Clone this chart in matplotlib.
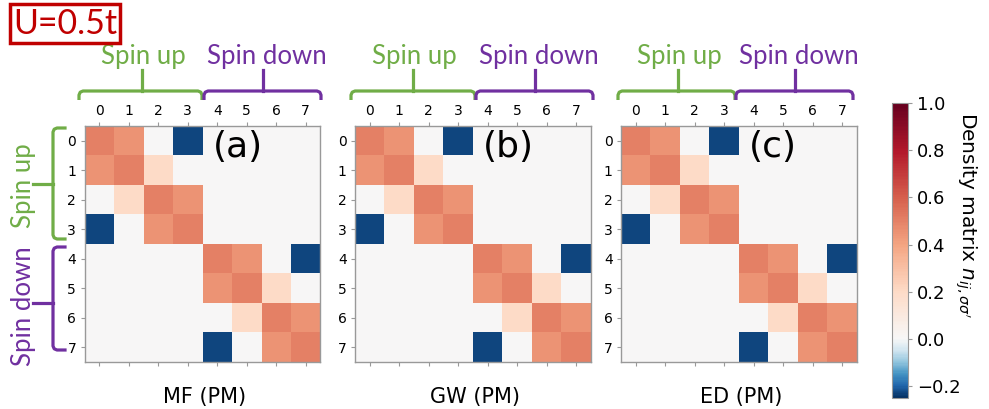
import numpy as np
import matplotlib
matplotlib.use("Agg")
import matplotlib.pyplot as plt
from matplotlib.colors import ListedColormap, Normalize

# density matrices n_ij,ss' (8 spin-orbitals: 0-3 spin up, 4-7 spin down)
mf_matrix = [
    [0.50, 0.45, 0.00, -0.23, 0.00, 0.00, 0.00, 0.00],
    [0.45, 0.50, 0.20, 0.00, 0.00, 0.00, 0.00, 0.00],
    [0.00, 0.20, 0.50, 0.45, 0.00, 0.00, 0.00, 0.00],
    [-0.23, 0.00, 0.45, 0.50, 0.00, 0.00, 0.00, 0.00],
    [0.00, 0.00, 0.00, 0.00, 0.50, 0.45, 0.00, -0.23],
    [0.00, 0.00, 0.00, 0.00, 0.45, 0.50, 0.20, 0.00],
    [0.00, 0.00, 0.00, 0.00, 0.00, 0.20, 0.50, 0.45],
    [0.00, 0.00, 0.00, 0.00, -0.23, 0.00, 0.45, 0.50],
]
gw_matrix = [
    [0.50, 0.45, 0.00, -0.23, 0.00, 0.00, 0.00, 0.00],
    [0.45, 0.50, 0.20, 0.00, 0.00, 0.00, 0.00, 0.00],
    [0.00, 0.20, 0.50, 0.45, 0.00, 0.00, 0.00, 0.00],
    [-0.23, 0.00, 0.45, 0.50, 0.00, 0.00, 0.00, 0.00],
    [0.00, 0.00, 0.00, 0.00, 0.50, 0.45, 0.00, -0.23],
    [0.00, 0.00, 0.00, 0.00, 0.45, 0.50, 0.20, 0.00],
    [0.00, 0.00, 0.00, 0.00, 0.00, 0.20, 0.50, 0.45],
    [0.00, 0.00, 0.00, 0.00, -0.23, 0.00, 0.45, 0.50],
]
ed_matrix = [
    [0.50, 0.45, 0.00, -0.23, 0.00, 0.00, 0.00, 0.00],
    [0.45, 0.50, 0.20, 0.00, 0.00, 0.00, 0.00, 0.00],
    [0.00, 0.20, 0.50, 0.45, 0.00, 0.00, 0.00, 0.00],
    [-0.23, 0.00, 0.45, 0.50, 0.00, 0.00, 0.00, 0.00],
    [0.00, 0.00, 0.00, 0.00, 0.50, 0.45, 0.00, -0.23],
    [0.00, 0.00, 0.00, 0.00, 0.45, 0.50, 0.20, 0.00],
    [0.00, 0.00, 0.00, 0.00, 0.00, 0.20, 0.50, 0.45],
    [0.00, 0.00, 0.00, 0.00, -0.23, 0.00, 0.45, 0.50],
]
panel_titles = ["MF (PM)", "GW (PM)", "ED (PM)"]
panel_tags = ["(a)", "(b)", "(c)"]
orbital_labels = ["0", "1", "2", "3", "4", "5", "6", "7"]
cbar_ticks = [-0.2, 0.0, 0.2, 0.4, 0.6, 0.8, 1.0]
vmin, vmax = -0.25, 1.0

W, H = 989, 409
GREEN = "#70AD47"
PURPLE = "#7030A0"
RED = "#C00000"

# RdBu_r with white pinned at zero
n_neg = int(round(256 * (-vmin) / (vmax - vmin)))
samples = np.concatenate([np.linspace(0, 0.5, n_neg, endpoint=False),
                          np.linspace(0.5, 1.0, 256 - n_neg)])
cmap = ListedColormap(plt.get_cmap("RdBu_r")(samples))
norm = Normalize(vmin=vmin, vmax=vmax)

fig = plt.figure(figsize=(W / 100, H / 100), dpi=100)

def px_box(left, top, width, height):
    return [left / W, (H - top - height) / H, width / W, height / H]

# overlay for brackets and labels in pixel coords
ov = fig.add_axes([0, 0, 1, 1])
ov.set_xlim(0, W)
ov.set_ylim(H, 0)
ov.axis("off")
ov.patch.set_alpha(0)

lefts = [84.5, 355, 621]
top, size = 126, 236
matrices = [mf_matrix, gw_matrix, ed_matrix]

im = None
for i, (mat, left) in enumerate(zip(matrices, lefts)):
    ax = fig.add_axes(px_box(left, top, size, size))
    im = ax.imshow(np.array(mat), cmap=cmap, norm=norm, aspect="auto",
                   interpolation="nearest")
    ax.set_xticks(range(8))
    ax.set_yticks(range(8))
    ax.set_xticklabels(orbital_labels)
    ax.set_yticklabels(orbital_labels)
    ax.tick_params(top=True, bottom=True, labeltop=True, labelbottom=False,
                   left=True, right=False, labelsize=10, color="#999999",
                   length=3, pad=3)
    for sp in ax.spines.values():
        sp.set_color("#999999")
        sp.set_linewidth(1)
    ax.text(3.85, 0.2, panel_tags[i], fontsize=26, ha="left", va="center")
    ov.text(left + size / 2 + 2, 397, panel_titles[i], fontsize=15,
            ha="center", va="center")

def hbracket(x0, x1, xs, color):
    yl, yb, yt, r = 91, 100, 70, 4
    xs_ = [x0, x0, x0 + 1.2, x0 + r, x1 - r, x1 - 1.2, x1, x1]
    ys_ = [yb, yl + r, yl + 1.2, yl, yl, yl + 1.2, yl + r, yb]
    ov.plot(xs_, ys_, color=color, lw=2.3, solid_capstyle="butt")
    ov.plot([xs, xs], [yl, yt], color=color, lw=2.3)

def vbracket(y0, y1, ys, color):
    xl, xr, xt, r = 53, 65, 33, 4
    xs_ = [xr, xl + r, xl + 1.2, xl, xl, xl + 1.2, xl + r, xr]
    ys_ = [y0, y0, y0 + 1.2, y0 + r, y1 - r, y1 - 1.2, y1, y1]
    ov.plot(xs_, ys_, color=color, lw=2.3)
    ov.plot([xl, xt], [ys, ys], color=color, lw=2.3)

top_up = [(79, 202, 142), (351, 475, 413), (618, 735, 678)]
top_down = [(204, 321, 263), (476, 593, 535), (736, 853, 795)]
for (a0, a1, a_s), (b0, b1, b_s) in zip(top_up, top_down):
    hbracket(a0, a1, a_s, GREEN)
    hbracket(b0, b1, b_s, PURPLE)
    ov.text(a_s + 1, 64, "Spin up", color=GREEN, fontsize=18.5,
            family="Lato", ha="center", va="baseline")
    ov.text(b_s + 4, 64, "Spin down", color=PURPLE, fontsize=18.5,
            family="Lato", ha="center", va="baseline")

vbracket(128, 239, 184, GREEN)
vbracket(247, 350, 303, PURPLE)
ov.text(24, 186, "Spin up", color=GREEN, fontsize=18.5, family="Lato",
        rotation=90, ha="center", va="center")
ov.text(24, 306, "Spin down", color=PURPLE, fontsize=18.5, family="Lato",
        rotation=90, ha="center", va="center")

ov.text(65, 23.5, "U=0.5t", color=RED, fontsize=24.5, family="Lato",
        ha="center", va="center",
        bbox=dict(boxstyle="square,pad=0.1", facecolor="white",
                  edgecolor=RED, linewidth=2.5))

cax = fig.add_axes(px_box(892, 103, 16, 295))
cb = fig.colorbar(im, cax=cax, ticks=cbar_ticks)
cb.ax.tick_params(labelsize=13, color="#999999", length=3)
cb.outline.set_edgecolor("#999999")
ov.text(966, 215, r"Density matrix $n_{ij,\sigma\sigma'}$", fontsize=14.5,
        rotation=270, ha="center", va="center")

fig.savefig("out.png", dpi=100)
